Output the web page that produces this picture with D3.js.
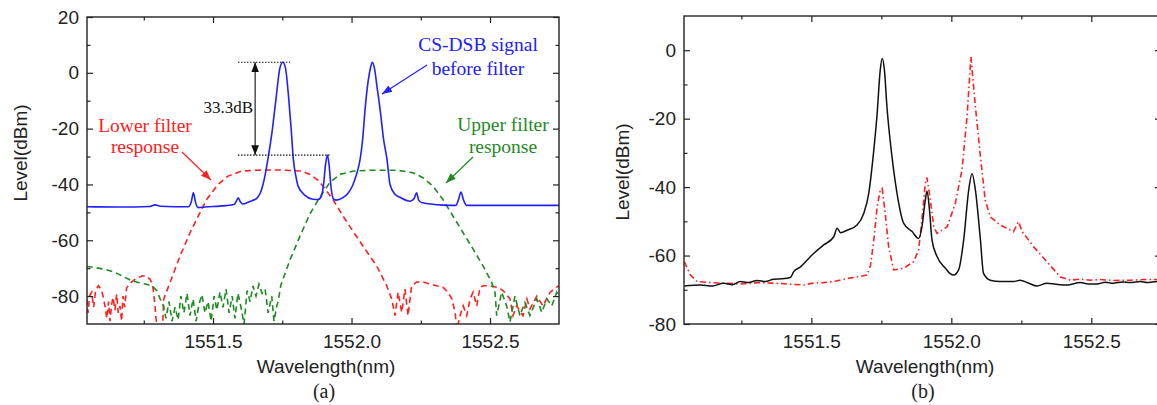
<!DOCTYPE html>
<html>
<head>
<meta charset="utf-8">
<script src="https://cdn.jsdelivr.net/npm/d3@7"></script>
<style>
  body { margin: 0; background: #fff; }
  svg { display: block; }
  .tick text { font-family: "Liberation Sans", Arial, sans-serif; font-size: 19px; fill: #222; }
  .tick line { stroke: #222; stroke-width: 1.2; }
</style>
</head>
<body>
<svg id="chart" width="1157" height="405"></svg>
<script>
// ---------- shared axis settings ----------
const wlDomain = [1551.045, 1552.749];
const wlMajor = [1551.5, 1552.0, 1552.5];
const wlMinor = [1551.25, 1551.75, 1552.25];
const levelMajorA = [20, 0, -20, -40, -60, -80];
const levelMinorA = [10, -10, -30, -50, -70];
const levelMajorB = [0, -20, -40, -60, -80];
const levelMinorB = [-10, -30, -50, -70];

// ---------- (a) CS-DSB signal before filter ----------
const signalWl = [1551.045, 1551.164, 1551.270, 1551.291, 1551.310, 1551.410, 1551.421, 1551.429, 1551.437, 1551.446,
  1551.471, 1551.543, 1551.576, 1551.585, 1551.591, 1551.599, 1551.608, 1551.626, 1551.641, 1551.658,
  1551.671, 1551.682, 1551.698, 1551.712, 1551.727, 1551.742, 1551.752, 1551.762, 1551.773, 1551.782,
  1551.790, 1551.800, 1551.807, 1551.832, 1551.857, 1551.879, 1551.890, 1551.899, 1551.906, 1551.913,
  1551.919, 1551.926, 1551.934, 1551.944, 1551.969, 1551.986, 1552.001, 1552.011, 1552.020, 1552.031,
  1552.040, 1552.049, 1552.060, 1552.069, 1552.075, 1552.083, 1552.092, 1552.103, 1552.116, 1552.128,
  1552.139, 1552.157, 1552.175, 1552.211, 1552.226, 1552.235, 1552.242, 1552.253, 1552.330, 1552.377,
  1552.386, 1552.395, 1552.404, 1552.416, 1552.749];
const signalDb = [-48.0, -48.1, -47.9, -47.3, -47.8, -48.0, -46.5, -43.0, -46.5, -48.3,
  -48.1, -47.6, -47.2, -45.8, -44.8, -46.3, -47.0, -46.4, -45.8, -45.0,
  -43.0, -39.4, -31.0, -22.0, -9.6, 2.0, 3.8, 1.5, -9.0, -20.0,
  -31.0, -37.5, -40.6, -43.9, -45.2, -45.4, -44.5, -40.0, -33.0, -29.5,
  -33.0, -41.0, -45.0, -45.6, -44.7, -43.3, -41.0, -38.5, -35.7, -31.0,
  -24.0, -13.0, -3.0, 2.0, 3.8, 1.5, -5.0, -13.0, -24.0, -31.0,
  -40.0, -43.5, -44.6, -46.0, -45.0, -43.0, -45.5, -46.5, -47.4, -47.5,
  -45.5, -42.7, -45.5, -47.5, -47.5];

// ---------- (a) lower filter response ----------
const lowerWl = [1551.044, 1551.049, 1551.054, 1551.062, 1551.069, 1551.076, 1551.086, 1551.096, 1551.103, 1551.111,
  1551.116, 1551.123, 1551.128, 1551.134, 1551.139, 1551.146, 1551.152, 1551.158, 1551.164, 1551.170,
  1551.175, 1551.181, 1551.188, 1551.197, 1551.206, 1551.218, 1551.230, 1551.244, 1551.255, 1551.265,
  1551.273, 1551.280, 1551.283, 1551.287, 1551.291, 1551.294, 1551.301, 1551.310, 1551.318, 1551.322,
  1551.345, 1551.381, 1551.417, 1551.453, 1551.477, 1551.495, 1551.518, 1551.554, 1551.604, 1551.652,
  1551.742, 1551.820, 1551.850, 1551.879, 1551.897, 1551.933, 1551.969, 1552.005, 1552.049, 1552.091,
  1552.127, 1552.145, 1552.157, 1552.168, 1552.181, 1552.193, 1552.204, 1552.217, 1552.235, 1552.258,
  1552.283, 1552.308, 1552.330, 1552.348, 1552.362, 1552.374, 1552.380, 1552.392, 1552.403, 1552.416,
  1552.428, 1552.439, 1552.452, 1552.464, 1552.475, 1552.500, 1552.524, 1552.547, 1552.572, 1552.583,
  1552.596, 1552.619, 1552.633, 1552.644, 1552.669, 1552.691, 1552.717, 1552.741, 1552.749];
const lowerDb = [-81, -86, -80, -78.6, -84, -78, -76.3, -77.5, -80, -84,
  -88, -82, -89, -83, -80.5, -85, -79.3, -86, -83.5, -89,
  -80, -84, -77, -76, -75, -74, -73.3, -72.8, -72.7, -73.3,
  -74, -75.5, -77, -80, -84, -88, -93, -95, -91, -81,
  -75.1, -65.6, -57.3, -50.1, -45.4, -43, -40, -37, -35.2, -34.9,
  -34.8, -35.2, -36.4, -38.5, -40.6, -45.4, -51.3, -56.7, -63.2, -69.2,
  -76.3, -81, -87, -78.6, -85.8, -77.5, -87, -76.3, -75, -74.9,
  -75.7, -76.3, -76.8, -78.6, -81, -85.8, -92, -87, -83.5, -87,
  -81, -78.6, -83.5, -76.8, -76.3, -76.3, -76.8, -78, -81, -87,
  -83.5, -87, -81, -84.6, -80, -83.5, -78.6, -76.8, -76.3];

// ---------- (a) upper filter response ----------
const upperWl = [1551.044, 1551.074, 1551.110, 1551.146, 1551.182, 1551.206, 1551.230, 1551.255, 1551.279, 1551.297,
  1551.309, 1551.321, 1551.330, 1551.341, 1551.352, 1551.363, 1551.374, 1551.384, 1551.395, 1551.406,
  1551.417, 1551.428, 1551.439, 1551.449, 1551.460, 1551.471, 1551.482, 1551.493, 1551.504, 1551.514,
  1551.525, 1551.536, 1551.547, 1551.558, 1551.569, 1551.579, 1551.590, 1551.601, 1551.612, 1551.623,
  1551.634, 1551.644, 1551.655, 1551.666, 1551.677, 1551.688, 1551.699, 1551.712, 1551.720, 1551.730,
  1551.735, 1551.745, 1551.778, 1551.814, 1551.850, 1551.886, 1551.921, 1551.958, 1552.007, 1552.067,
  1552.163, 1552.222, 1552.258, 1552.294, 1552.330, 1552.366, 1552.403, 1552.439, 1552.475, 1552.506,
  1552.518, 1552.524, 1552.542, 1552.560, 1552.572, 1552.590, 1552.608, 1552.626, 1552.644, 1552.669,
  1552.687, 1552.705, 1552.723, 1552.741, 1552.749];
const upperDb = [-69.4, -69.8, -70.4, -71.5, -73.3, -74.5, -75.1, -75.7, -76.3, -78.1,
  -81, -83.5, -88, -82, -89, -84, -88.5, -80, -86, -79,
  -87, -81, -89, -83, -79.5, -86, -82, -89, -80, -85,
  -78.5, -84, -77.5, -86, -80, -88, -79, -84, -90, -78,
  -82, -76.3, -80, -75.7, -79, -77.5, -86, -80, -89, -83.5,
  -82, -76, -67, -58.5, -50.5, -44.5, -39.4, -36.4, -35.2, -34.9,
  -34.9, -35.8, -37.6, -40.6, -45.4, -51.3, -57.3, -63.2, -69.2, -75.1,
  -78.7, -87, -78.6, -83.5, -89.3, -80, -87, -82.3, -87, -81,
  -85.8, -81, -83.5, -78.6, -80];

// ---------- (b) solid trace ----------
const solidWl = [1551.046, 1551.104, 1551.146, 1551.187, 1551.218, 1551.246, 1551.275, 1551.306, 1551.336, 1551.365,
  1551.396, 1551.425, 1551.437, 1551.461, 1551.485, 1551.508, 1551.544, 1551.580, 1551.592, 1551.604,
  1551.628, 1551.663, 1551.687, 1551.705, 1551.723, 1551.735, 1551.746, 1551.753, 1551.761, 1551.770,
  1551.788, 1551.806, 1551.830, 1551.860, 1551.883, 1551.895, 1551.907, 1551.913, 1551.922, 1551.931,
  1551.949, 1551.979, 1551.996, 1552.008, 1552.026, 1552.044, 1552.062, 1552.074, 1552.086, 1552.104,
  1552.115, 1552.139, 1552.175, 1552.222, 1552.246, 1552.275, 1552.306, 1552.341, 1552.375, 1552.413,
  1552.461, 1552.489, 1552.520, 1552.550, 1552.579, 1552.611, 1552.639, 1552.675, 1552.699, 1552.736, 1552.750];
const solidDb = [-68.9, -68.6, -68.9, -68.1, -68.5, -67.6, -67.9, -67.3, -67.6, -66.9,
  -66.8, -66.4, -64.7, -63.3, -61.3, -59.4, -56.9, -54.5, -52.0, -53.3,
  -52.6, -51.1, -47.7, -41.8, -29.2, -18.5, -5.8, -2.4, -5.8, -16.5,
  -31.1, -41.8, -50.6, -53.0, -55.0, -51.6, -43.8, -41.1, -46.7, -55.5,
  -60.3, -63.7, -65.3, -65.7, -64.2, -55.5, -40.9, -36.0, -40.9, -55.5,
  -65.2, -67.2, -67.6, -67.6, -67.2, -68.0, -68.9, -68.1, -68.4, -68.6,
  -67.9, -68.3, -68.3, -67.8, -68.1, -67.7, -67.9, -67.6, -67.9, -67.6, -67.6];

// ---------- (b) dash-dot trace ----------
const dashWl = [1551.046, 1551.068, 1551.092, 1551.139, 1551.187, 1551.246, 1551.306, 1551.378, 1551.425, 1551.473,
  1551.508, 1551.544, 1551.586, 1551.628, 1551.668, 1551.699, 1551.711, 1551.723, 1551.735, 1551.746,
  1551.753, 1551.764, 1551.776, 1551.794, 1551.830, 1551.865, 1551.883, 1551.895, 1551.907, 1551.913,
  1551.925, 1551.937, 1551.949, 1551.985, 1552.014, 1552.038, 1552.056, 1552.070, 1552.086, 1552.104,
  1552.121, 1552.139, 1552.175, 1552.222, 1552.240, 1552.253, 1552.294, 1552.341, 1552.389, 1552.425,
  1552.461, 1552.496, 1552.532, 1552.580, 1552.639, 1552.693, 1552.750];
const dashDb = [-61.8, -65.7, -67.6, -67.9, -68.1, -68.3, -67.9, -68.1, -68.4, -68.6,
  -68.0, -67.9, -67.5, -66.7, -66.2, -65.7, -63.0, -55.5, -45.7, -40.9,
  -40.4, -47.7, -57.4, -64.2, -63.7, -61.8, -58.4, -49.6, -38.9, -37.2,
  -43.8, -51.6, -53.5, -51.6, -44.8, -35.0, -19.5, -1.9, -16.5, -31.1,
  -43.8, -48.7, -51.1, -53.0, -50.1, -53.0, -57.4, -61.8, -66.2, -67.2,
  -66.9, -67.2, -67.0, -67.3, -67.2, -67.0, -67.0];

const zip = (xs, ys) => xs.map((v, i) => [v, ys[i]]);

const svg = d3.select("#chart");
const defs = svg.append("defs");

function arrowMarker(id, color) {
  defs.append("marker")
    .attr("id", id)
    .attr("viewBox", "0 0 10 10")
    .attr("refX", 10).attr("refY", 5)
    .attr("markerWidth", 10).attr("markerHeight", 10)
    .attr("markerUnits", "userSpaceOnUse")
    .attr("orient", "auto-start-reverse")
    .append("path")
    .attr("d", "M0,1.2 L10,5 L0,8.8 Z")
    .attr("fill", color);
}
arrowMarker("arr-black", "#111");
arrowMarker("arr-red", "#ff2020");
arrowMarker("arr-blue", "#2020ff");
arrowMarker("arr-green", "#1f8a1f");

// Builds one framed panel with inward ticks on all four sides
function buildPanel(o) {
  const x = d3.scaleLinear().domain(wlDomain).range([o.left, o.right]);
  const y = d3.scaleLinear().domain(o.yDomain).range([o.bottom, o.top]);
  const g = svg.append("g");

  defs.append("clipPath").attr("id", "clip-" + o.id)
    .append("rect")
    .attr("x", o.left).attr("y", o.top)
    .attr("width", o.right - o.left).attr("height", o.bottom - o.top);

  const plot = g.append("g").attr("clip-path", `url(#clip-${o.id})`);

  const axisG = (gen, tx, ty) => {
    const a = g.append("g").attr("transform", `translate(${tx},${ty})`).call(gen);
    a.select(".domain").remove();
    return a;
  };
  const fmtLevel = d => String(d);

  axisG(d3.axisBottom(x).tickValues(wlMajor).tickSize(-6).tickPadding(11).tickFormat(d3.format(".1f")), 0, o.bottom);
  axisG(d3.axisBottom(x).tickValues(wlMinor).tickSize(-3.5).tickFormat(""), 0, o.bottom);
  axisG(d3.axisTop(x).tickValues(wlMajor).tickSize(-6).tickFormat(""), 0, o.top);
  axisG(d3.axisTop(x).tickValues(wlMinor).tickSize(-3.5).tickFormat(""), 0, o.top);
  axisG(d3.axisLeft(y).tickValues(o.yMajor).tickSize(-6).tickPadding(8).tickFormat(fmtLevel), o.left, 0);
  axisG(d3.axisLeft(y).tickValues(o.yMinor).tickSize(-3.5).tickFormat(""), o.left, 0);
  axisG(d3.axisRight(y).tickValues(o.yMajor).tickSize(-6).tickFormat(""), o.right, 0);
  axisG(d3.axisRight(y).tickValues(o.yMinor).tickSize(-3.5).tickFormat(""), o.right, 0);

  g.append("rect")
    .attr("x", o.left).attr("y", o.top)
    .attr("width", o.right - o.left).attr("height", o.bottom - o.top)
    .attr("fill", "none").attr("stroke", "#222").attr("stroke-width", 1.4);

  // axis titles
  const cx = (o.left + Math.min(o.right, 1157)) / 2;
  g.append("text")
    .attr("x", o.xTitleX).attr("y", 373)
    .attr("text-anchor", "middle")
    .attr("font-family", "Liberation Sans, Arial, sans-serif").attr("font-size", 19).attr("fill", "#222")
    .text("Wavelength(nm)");
  g.append("text")
    .attr("transform", `translate(${o.yTitleX},${o.yTitleY}) rotate(-90)`)
    .attr("text-anchor", "middle")
    .attr("font-family", "Liberation Sans, Arial, sans-serif").attr("font-size", 19).attr("fill", "#222")
    .text("Level(dBm)");
  g.append("text")
    .attr("x", o.xTitleX - 2).attr("y", 398)
    .attr("text-anchor", "middle")
    .attr("font-family", "Liberation Serif, Times New Roman, serif").attr("font-size", 20).attr("fill", "#222")
    .text(o.tag);

  return { x, y, plot, g };
}

// ---------- panel (a) ----------
const A = buildPanel({
  id: "a", left: 87, right: 559, top: 17, bottom: 324,
  yDomain: [-90, 20], yMajor: levelMajorA, yMinor: levelMinorA,
  xTitleX: 326, yTitleX: 27, yTitleY: 153, tag: "(a)"
});

const lineA = d3.line().x(d => A.x(d[0])).y(d => A.y(d[1]));
const smoothA = d3.line().x(d => A.x(d[0])).y(d => A.y(d[1])).curve(d3.curveMonotoneX);

A.plot.append("path").datum(zip(lowerWl, lowerDb))
  .attr("d", lineA).attr("fill", "none")
  .attr("stroke", "#ff2020").attr("stroke-width", 1.6).attr("stroke-dasharray", "6,4");
A.plot.append("path").datum(zip(upperWl, upperDb))
  .attr("d", lineA).attr("fill", "none")
  .attr("stroke", "#1f8a1f").attr("stroke-width", 1.6).attr("stroke-dasharray", "6,4");
A.plot.append("path").datum(zip(signalWl, signalDb))
  .attr("d", smoothA).attr("fill", "none")
  .attr("stroke", "#2020ff").attr("stroke-width", 1.6);

// 33.3 dB suppression marker between the first-order and the residual peak
const topLevel = d3.max(signalDb);
const residualLevel = signalDb[signalWl.indexOf(1551.913)];
const dotted = (w0, w1, lvl) => A.g.append("line")
  .attr("x1", A.x(w0)).attr("x2", A.x(w1)).attr("y1", A.y(lvl)).attr("y2", A.y(lvl))
  .attr("stroke", "#111").attr("stroke-width", 1.1).attr("stroke-dasharray", "1.5,1.5");
dotted(1551.590, 1551.778, topLevel);
dotted(1551.590, 1551.922, residualLevel);
A.g.append("line")
  .attr("x1", A.x(1551.652)).attr("x2", A.x(1551.652))
  .attr("y1", A.y(topLevel)).attr("y2", A.y(residualLevel))
  .attr("stroke", "#111").attr("stroke-width", 1.1)
  .attr("marker-start", "url(#arr-black)").attr("marker-end", "url(#arr-black)");
A.g.append("text")
  .attr("x", A.x(1551.652) - 2).attr("y", 113)
  .attr("text-anchor", "end")
  .attr("font-family", "Liberation Serif, Times New Roman, serif").attr("font-size", 17).attr("fill", "#111")
  .text((topLevel - residualLevel).toFixed(1) + "dB");

// callouts
function callout(lines, cx, baselines, color, from, to, marker) {
  lines.forEach((t, i) => {
    A.g.append("text")
      .attr("x", cx).attr("y", baselines[i])
      .attr("text-anchor", "middle")
      .attr("font-family", "Liberation Serif, Times New Roman, serif").attr("font-size", 19.5).attr("fill", color)
      .text(t);
  });
  A.g.append("line")
    .attr("x1", from[0]).attr("y1", from[1]).attr("x2", to[0]).attr("y2", to[1])
    .attr("stroke", color).attr("stroke-width", 1.2)
    .attr("marker-end", `url(#${marker})`);
}
callout(["Lower filter", "response"], 145, [132, 153], "#ff2020", [182, 152], [211, 180], "arr-red");
callout(["CS-DSB signal", "before filter"], 478, [51, 75], "#2020ff", [427, 65], [382, 94], "arr-blue");
callout(["Upper filter", "response"], 503, [131, 153], "#1f8a1f", [473, 157], [446, 183], "arr-green");

// ---------- panel (b) ----------
const B = buildPanel({
  id: "b", left: 684, right: 1161, top: 16, bottom: 324,
  yDomain: [-80, 10], yMajor: levelMajorB, yMinor: levelMinorB,
  xTitleX: 925, yTitleX: 629, yTitleY: 172, tag: "(b)"
});

const smoothB = d3.line().x(d => B.x(d[0])).y(d => B.y(d[1])).curve(d3.curveMonotoneX);
const lineB = d3.line().x(d => B.x(d[0])).y(d => B.y(d[1]));

B.plot.append("path").datum(zip(dashWl, dashDb))
  .attr("d", lineB).attr("fill", "none")
  .attr("stroke", "#ff2020").attr("stroke-width", 1.6).attr("stroke-dasharray", "6,3,1.5,3");
B.plot.append("path").datum(zip(solidWl, solidDb))
  .attr("d", smoothB).attr("fill", "none")
  .attr("stroke", "#111").attr("stroke-width", 1.5);
</script>
</body>
</html>
